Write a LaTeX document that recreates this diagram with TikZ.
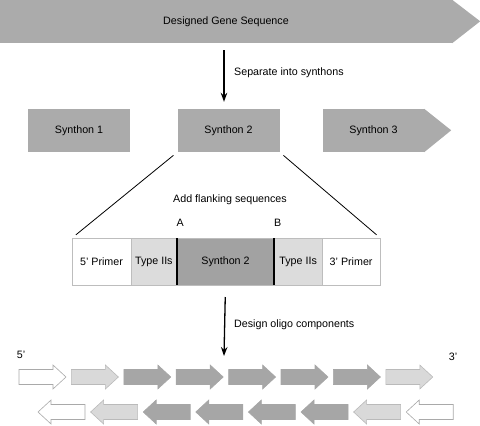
\documentclass[tikz,border=0pt]{standalone}
\usepackage{fontspec}
\setmainfont{Liberation Sans}
\usetikzlibrary{positioning,arrows.meta}

\definecolor{blockgray}{HTML}{ABABAB}
\definecolor{coregray}{HTML}{A2A2A2}
\definecolor{flankgray}{HTML}{DCDCDC}
\definecolor{edgegray}{HTML}{BDBDBD}
\definecolor{oligodark}{HTML}{A6A6A6}
\definecolor{oligolight}{HTML}{D9D9D9}
\definecolor{oligoedge}{HTML}{A9A9A9}

\tikzset{
  lbl/.style={font=\fontsize{10.7}{13}\selectfont, inner sep=0pt},
  block/.style={lbl, fill=blockgray, minimum width=102pt, minimum height=43pt},
  seg/.style={lbl, draw=edgegray, line width=0.8pt, outer sep=0pt, minimum height=47pt},
  flow/.style={-{Stealth[length=9pt,width=6.5pt]}, line width=1.3pt},
  pics/oligo/.style={code={
    \path[pic actions, line width=0.6pt] (-23.5,-7.5) -- (10.5,-7.5) -- (10.5,-12) -- (23.5,0)
      -- (10.5,12) -- (10.5,7.5) -- (-23.5,7.5) -- cycle;}},
}

\begin{document}
\begin{tikzpicture}[x=1pt, y=-1pt]
\useasboundingbox (0,0) rectangle (480,426);

\node[block, minimum width=452pt] (gene) at (226,21.5) {Designed Gene Sequence};
\fill[blockgray] (gene.north east) -- ++(28,21.5) -- (gene.south east) -- cycle;

\node[block] (syn1) at (79,130.5) {Synthon 1};
\node[block] (syn2) at (228.5,130.5) {Synthon 2};
\node[block, minimum width=101pt] (syn3) at (373.5,130.5) {Synthon 3};
\fill[blockgray] (syn3.north east) -- ++(27,21.5) -- (syn3.south east) -- cycle;

\coordinate (spine) at (224,0);
\draw[flow, shorten <=7pt, shorten >=7pt] (gene.south -| spine) -- (syn2.north -| spine);
\node[lbl, anchor=west] (split) at (234,73) {Separate into synthons};

% flanked synthon
\node[seg, minimum width=59pt] (p5) at (101.5,261.5) {5' Primer};
\node[seg, fill=flankgray, minimum width=45.7pt, right=0pt of p5] (t1) {Type IIs};
\node[seg, fill=coregray, minimum width=97.6pt, right=0pt of t1] (core) {Synthon 2};
\node[seg, fill=flankgray, minimum width=47.7pt, right=0pt of core] (t2) {Type IIs};
\node[seg, minimum width=58.3pt, right=0pt of t2] (p3) {3' Primer};
\draw[line width=2pt] (core.north west) -- (core.south west);
\draw[line width=2pt] (core.north east) -- (core.south east);
\node[lbl] (siteA) at ([xshift=3.5pt, yshift=15pt]core.north west) {A};
\node[lbl] (siteB) at ([xshift=3.5pt, yshift=15pt]core.north east) {B};

\draw[line width=0.8pt, shorten <=5pt, shorten >=5pt] (syn2.south west) -- (p5.north west);
\draw[line width=0.8pt, shorten <=5pt, shorten >=5pt] (syn2.south east) -- (p3.north east);
\node[lbl] (flank) at (230,200) {Add flanking sequences};

\coordinate (oligotop) at (224,356);
\draw[flow, shorten <=12pt] (core.south) -- (oligotop);
\node[lbl, anchor=west] (design) at (234,325) {Design oligo components};

% oligos
\node[lbl] (end5) at (21,355) {5'};
\node[lbl] (end3) at (453,357) {3'};
\foreach \fc/\ec [count=\i] in {white/oligoedge, oligolight/oligoedge!80, oligodark/oligodark,
    oligodark/oligodark, oligodark/oligodark, oligodark/oligodark, oligodark/oligodark, oligolight/oligoedge!80}
  \pic[fill=\fc, draw=\ec] (fwd\i) at ({-9.9+52.4*\i},377) {oligo};
\foreach \fc/\ec [count=\i] in {white/oligoedge, oligolight/oligoedge!80, oligodark/oligodark,
    oligodark/oligodark, oligodark/oligodark, oligodark/oligodark, oligolight/oligoedge!80, white/oligoedge}
  \pic[xscale=-1, fill=\fc, draw=\ec] (rev\i) at ({8.9+52.6*\i},412) {oligo};

\end{tikzpicture}
\end{document}
